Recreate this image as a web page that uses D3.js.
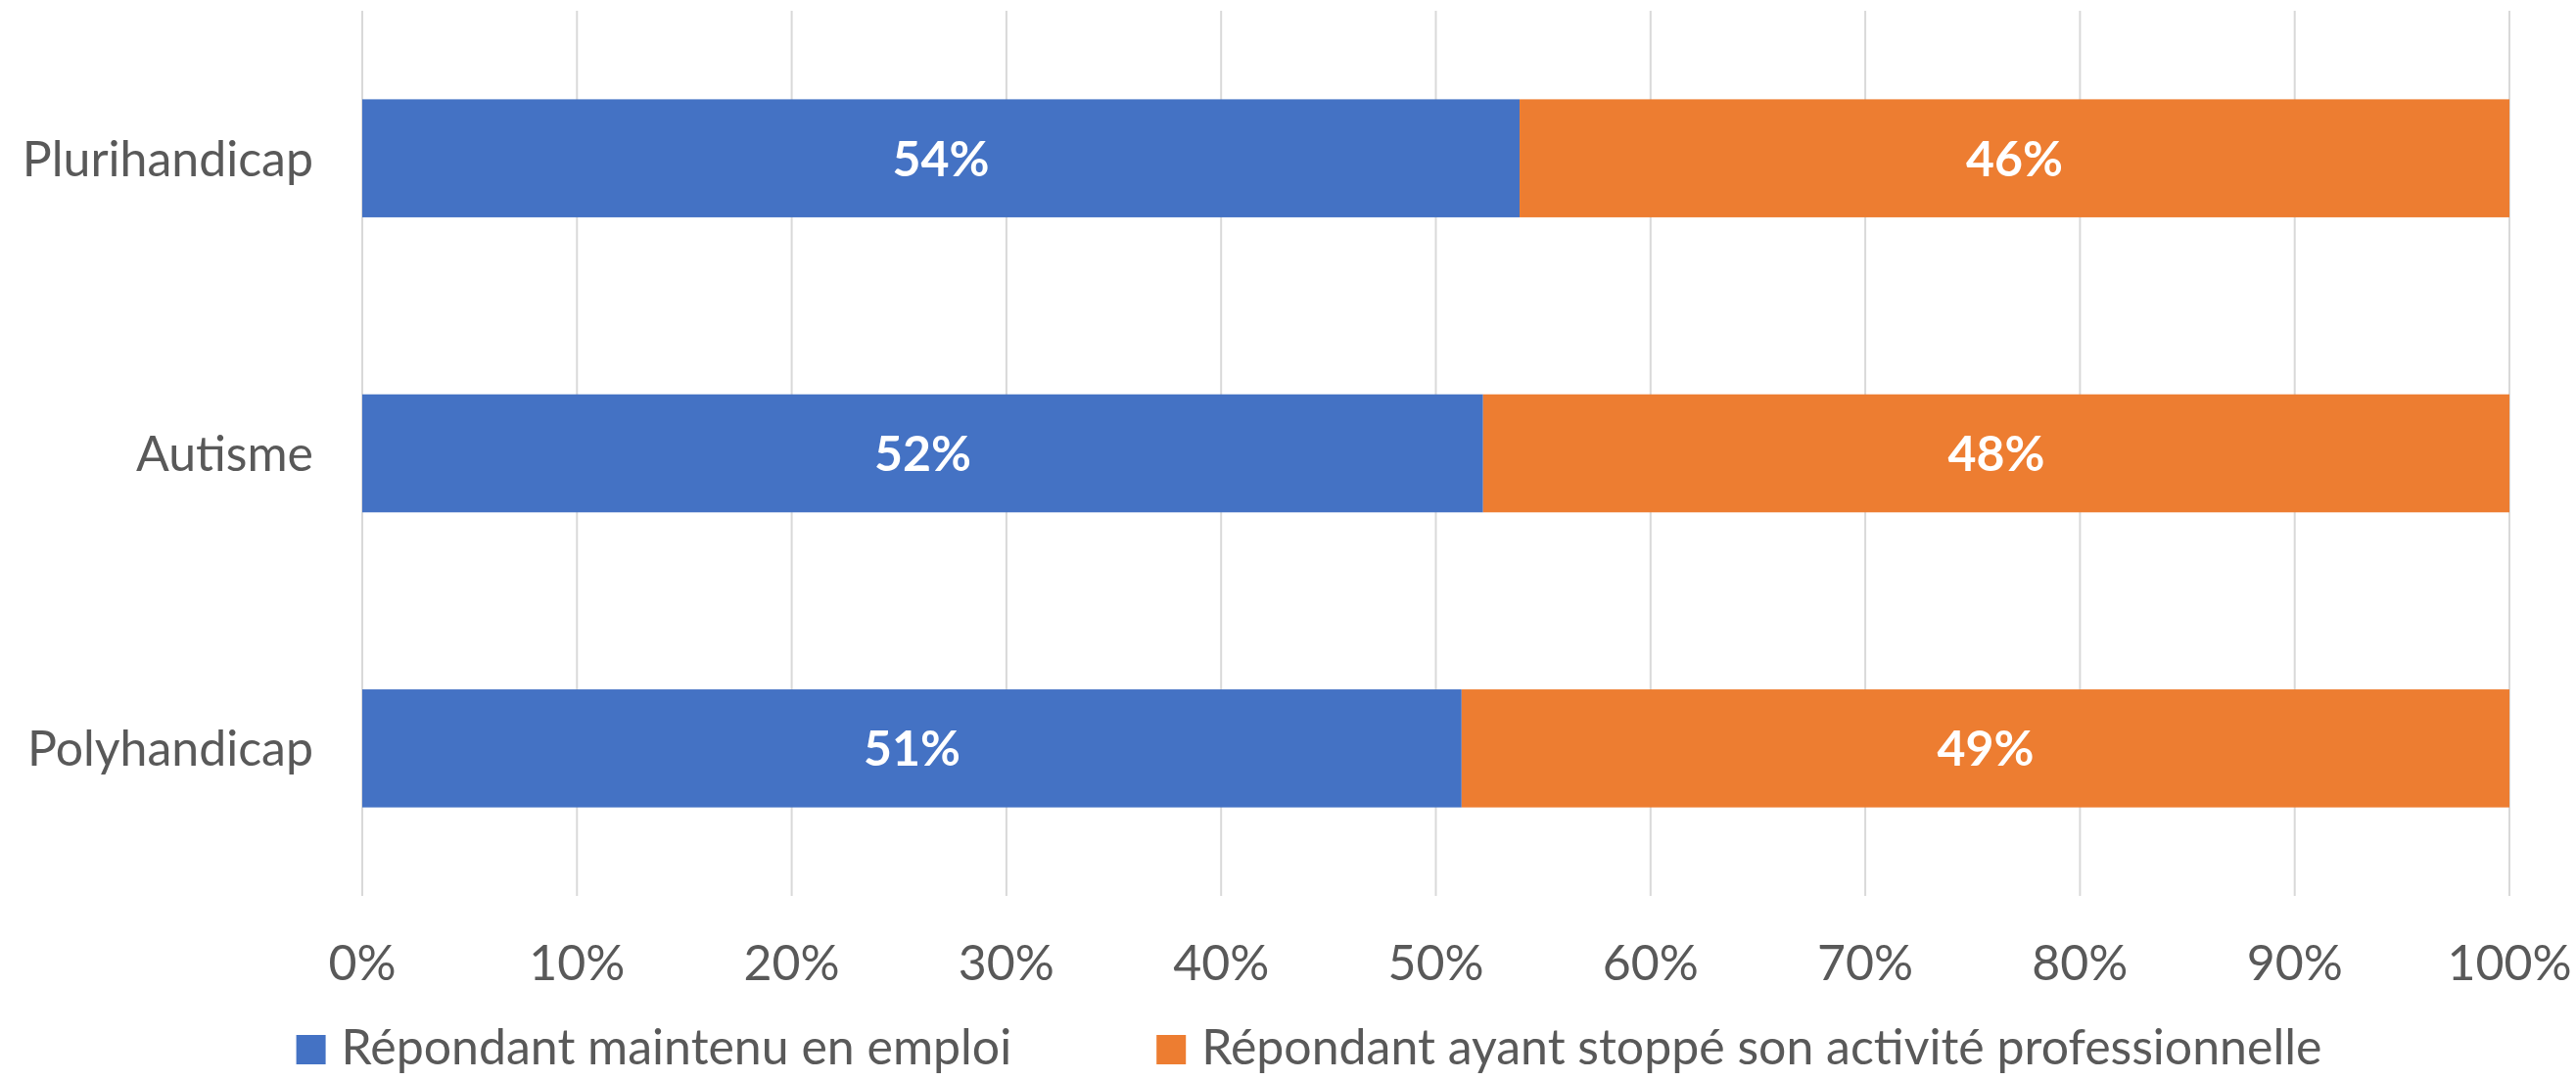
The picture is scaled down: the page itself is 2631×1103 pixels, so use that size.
<!DOCTYPE html>
<html>
<head>
<meta charset="utf-8">
<script src="https://cdn.jsdelivr.net/npm/d3@7"></script>
<style>
  html, body { margin: 0; padding: 0; background: #fff; }
  svg { display: block; }
  text { font-family: Lato, "Open Sans", sans-serif; fill: #595959; }
</style>
</head>
<body>
<div id="chart"></div>
<script>
// Categories, top to bottom
const categories = ['Plurihandicap', 'Autisme', 'Polyhandicap'];

// Share of respondents (%) per category
const maintained = [53.9, 52.2, 51.2];
const stopped = [46.1, 47.8, 48.8];

const seriesNames = [
    'Répondant maintenu en emploi',
    'Répondant ayant stoppé son activité professionnelle'
];
const seriesColors = ['#4472C4', '#ED7D31'];

const xTicks = [0, 10, 20, 30, 40, 50, 60, 70, 80, 90, 100];

const width = 2631;
const height = 1103;
const margin = { top: 11, right: 68, bottom: 188, left: 370 };
const fontSize = 50;

const svg = d3.select('#chart')
    .append('svg')
    .attr('width', width)
    .attr('height', height);

const x = d3.scaleLinear()
    .domain([0, 100])
    .range([margin.left, width - margin.right]);

const y = d3.scaleBand()
    .domain(categories)
    .range([margin.top, height - margin.bottom])
    .paddingInner(0.6)
    .paddingOuter(0.3);

// gridlines
svg.append('g')
    .selectAll('line')
    .data(xTicks)
    .join('line')
    .attr('x1', d => x(d))
    .attr('x2', d => x(d))
    .attr('y1', margin.top)
    .attr('y2', height - margin.bottom)
    .attr('stroke', '#d9d9d9')
    .attr('stroke-width', 2);

// stacked rows
const rows = categories.map((c, i) => ({
    name: c,
    parts: [
        { start: 0, value: maintained[i], color: seriesColors[0] },
        { start: maintained[i], value: stopped[i], color: seriesColors[1] }
    ]
}));

const rowG = svg.append('g')
    .selectAll('g')
    .data(rows)
    .join('g');

rowG.selectAll('rect')
    .data(d => d.parts.map(p => ({ ...p, cat: d.name })))
    .join('rect')
    .attr('x', d => x(d.start))
    .attr('y', d => y(d.cat))
    .attr('width', d => x(d.start + d.value) - x(d.start))
    .attr('height', y.bandwidth())
    .attr('fill', d => d.color);

rowG.selectAll('text.val')
    .data(d => d.parts.map(p => ({ ...p, cat: d.name })))
    .join('text')
    .attr('class', 'val')
    .attr('x', d => x(d.start + d.value / 2))
    .attr('y', d => y(d.cat) + y.bandwidth() / 2)
    .attr('dy', '0.36em')
    .attr('text-anchor', 'middle')
    .style('fill', '#fff')
    .style('font-weight', 'bold')
    .style('font-size', fontSize + 'px')
    .text(d => Math.round(d.value) + '%');

// category labels
svg.append('g')
    .selectAll('text')
    .data(categories)
    .join('text')
    .attr('x', margin.left - 50)
    .attr('y', d => y(d) + y.bandwidth() / 2)
    .attr('dy', '0.36em')
    .attr('text-anchor', 'end')
    .style('font-size', fontSize + 'px')
    .text(d => d);

// x tick labels
svg.append('g')
    .selectAll('text')
    .data(xTicks)
    .join('text')
    .attr('x', d => x(d))
    .attr('y', 1001)
    .attr('text-anchor', 'middle')
    .style('font-size', fontSize + 'px')
    .text(d => d + '%');

// legend, centred below the plot
const legend = svg.append('g');
const swatch = 30;
const itemGap = 148;
let lx = 0;
seriesNames.forEach((name, i) => {
    const item = legend.append('g').attr('transform', `translate(${lx},0)`);
    item.append('rect')
        .attr('x', 0)
        .attr('y', 1057)
        .attr('width', swatch)
        .attr('height', swatch)
        .attr('fill', seriesColors[i]);
    const t = item.append('text')
        .attr('x', swatch + 16)
        .attr('y', 1087)
        .style('font-size', fontSize + 'px')
        .text(name);
    lx += swatch + 16 + t.node().getComputedTextLength() + itemGap;
});
const legendWidth = lx - itemGap;
legend.attr('transform', `translate(${1337 - legendWidth / 2},0)`);
</script>
</body>
</html>
